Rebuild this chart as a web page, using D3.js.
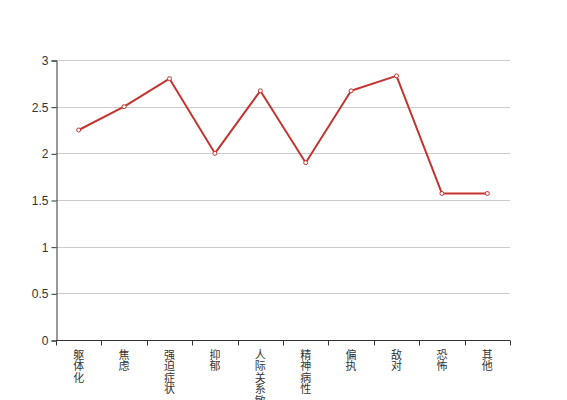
<!DOCTYPE html>
<meta charset="utf-8">
<script src="https://d3js.org/d3.v7.min.js"></script>
<style>
  body { margin: 0; background: #fff; }
  text { font-family: "Liberation Sans", "Noto Sans CJK SC", sans-serif; }
</style>
<div id="chart"></div>
<script>
// categories and scores
var categories = ["躯体化", "焦虑", "强迫症状", "抑郁", "人际关系敏感", "精神病性", "偏执", "敌对", "恐怖", "其他"];
var values = [2.25, 2.5, 2.8, 2.0, 2.67, 1.9, 2.67, 2.83, 1.57, 1.57];
var yTicks = [0, 0.5, 1, 1.5, 2, 2.5, 3];

var width = 567, height = 400;
var margin = {top: 60, right: 57, bottom: 60, left: 56};

var svg = d3.select("#chart").append("svg")
    .attr("width", width)
    .attr("height", height);

var x = d3.scaleBand()
    .domain(categories)
    .range([margin.left, width - margin.right]);

var y = d3.scaleLinear()
    .domain([0, 3])
    .range([height - margin.bottom, margin.top]);

// grid lines
svg.append("g")
  .selectAll("line")
  .data(yTicks.slice(1))
  .enter().append("line")
    .attr("x1", margin.left)
    .attr("x2", width - margin.right)
    .attr("y1", function(d) { return Math.round(y(d)) + 0.5; })
    .attr("y2", function(d) { return Math.round(y(d)) + 0.5; })
    .attr("stroke", "#ccc");

// y axis
var yAxis = svg.append("g")
    .attr("transform", "translate(" + (margin.left + 0.5) + ",0.5)")
    .call(d3.axisLeft(y).tickValues(yTicks).tickSize(5).tickPadding(3).tickFormat(d3.format("")));
yAxis.select(".domain").attr("stroke", "#333");
yAxis.selectAll(".tick line").attr("stroke", "#333");
yAxis.selectAll("text").attr("fill", "#333").style("font-size", "12px")
    .style("font-family", "'Liberation Sans', sans-serif");

// x axis
var xAxis = svg.append("g")
    .attr("transform", "translate(0," + (y(0) + 0.5) + ")");
xAxis.append("line")
    .attr("x1", margin.left)
    .attr("x2", width - margin.right)
    .attr("stroke", "#333");
var bounds = categories.map(function(c) { return x(c); }).concat([x.range()[1]]);
xAxis.selectAll("line.tk")
  .data(bounds)
  .enter().append("line")
    .attr("class", "tk")
    .attr("x1", function(d) { return Math.round(d) + 0.5; })
    .attr("x2", function(d) { return Math.round(d) + 0.5; })
    .attr("y1", 0)
    .attr("y2", 5)
    .attr("stroke", "#333");

// vertical labels, one character per line
var lbl = xAxis.selectAll("text.lbl")
  .data(categories)
  .enter().append("text")
    .attr("class", "lbl")
    .attr("fill", "#333")
    .style("font-size", "11px")
    .style("font-family", "'Noto Sans CJK SC', sans-serif")
    .attr("text-anchor", "middle");
lbl.each(function(d) {
  var t = d3.select(this);
  var cx = x(d) + x.bandwidth() / 2;
  d.split("").forEach(function(ch, i) {
    t.append("tspan")
      .attr("x", cx)
      .attr("y", 18 + i * 11.5)
      .text(ch);
  });
});

// line
var line = d3.line()
    .x(function(d, i) { return x(categories[i]) + x.bandwidth() / 2; })
    .y(function(d) { return y(d); });

svg.append("path")
    .datum(values)
    .attr("fill", "none")
    .attr("stroke", "#c23531")
    .attr("stroke-width", 2)
    .attr("stroke-linejoin", "round")
    .attr("d", line);

svg.append("g")
  .selectAll("circle")
  .data(values)
  .enter().append("circle")
    .attr("cx", function(d, i) { return x(categories[i]) + x.bandwidth() / 2; })
    .attr("cy", function(d) { return y(d); })
    .attr("r", 2)
    .attr("fill", "#fff")
    .attr("stroke", "#c23531")
    .attr("stroke-width", 1);
</script>
